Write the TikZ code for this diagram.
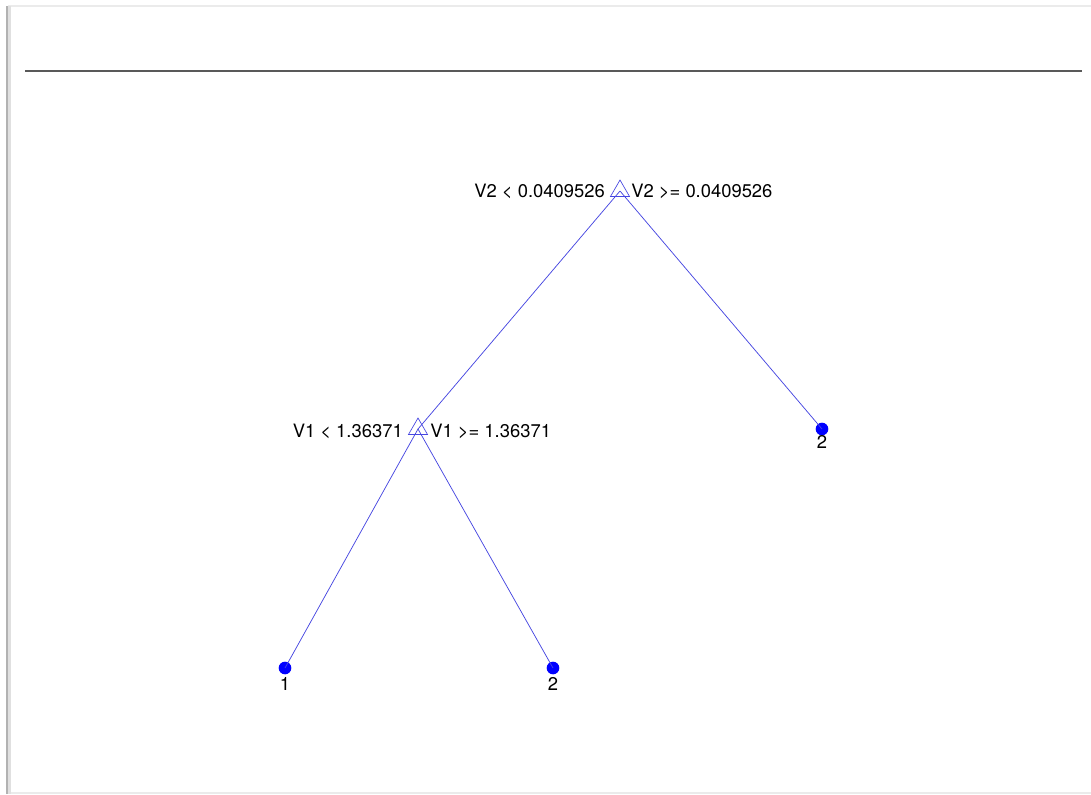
\documentclass[tikz,border=0pt]{standalone}
\usepackage{fontspec}
\setmainfont{TeX Gyre Heros}
\usepackage{tikz}
\usetikzlibrary{shapes.geometric}

\definecolor{treeblue}{RGB}{70,70,225}
\tikzset{
    split/.style={regular polygon, regular polygon sides=3, draw=treeblue,
        minimum size=16.5pt, inner sep=0pt, line width=0.5pt},
    leaf/.style={circle, fill=blue, minimum size=9.5pt, inner sep=0pt},
    branch/.style={treeblue, line width=0.55pt},
    rule/.style={font=\fontsize{13.8}{16}\selectfont, inner sep=0pt},
    klass/.style={font=\fontsize{13.8}{16}\selectfont, inner sep=0pt}
}

\begin{document}
\begin{tikzpicture}[x=0.75pt, y=-0.75pt]
            % window frame
            \useasboundingbox[fill=white] (0,0) rectangle (1091,794);
            \draw[black!8, line width=2pt] (8,6) -- (1091,6);
            \draw[black!8, line width=1.5pt] (8,793) -- (1091,793);
            \draw[black!30, line width=2.2pt] (7,6) -- (7,794);
            \draw[black!12, line width=2pt] (9.5,6) -- (9.5,794);
            \draw[black!65, line width=1pt] (25,71) -- (1082,71);
            % tree nodes
            \node[split] (root) at (620,191) {};
            \node[split] (n2) at (418,429) {};
            \node[leaf] (leaf1) at (285,668) {};
            \node[leaf] (leaf2) at (553,668) {};
            \node[leaf] (leaf3) at (822,429) {};
            % branches
            \draw[branch] (root.center) -- (n2.center);
            \draw[branch] (root.center) -- (leaf3.center);
            \draw[branch] (n2.center) -- (leaf1.center);
            \draw[branch] (n2.center) -- (leaf2.center);
            % split rules
            \node[rule, anchor=east] (r1l) at (605,191) {V2 < 0.0409526};
            \node[rule, anchor=west] (r1r) at (631,191) {V2 >= 0.0409526};
            \node[rule, anchor=east] (r2l) at (403,431) {V1 < 1.36371};
            \node[rule, anchor=west] (r2r) at (430,431) {V1 >= 1.36371};
            % classes
            \node[klass] (c1) at (285,684) {1};
            \node[klass] (c2) at (553,684) {2};
            \node[klass] (c3) at (822,442) {2};
\end{tikzpicture}
\end{document}
